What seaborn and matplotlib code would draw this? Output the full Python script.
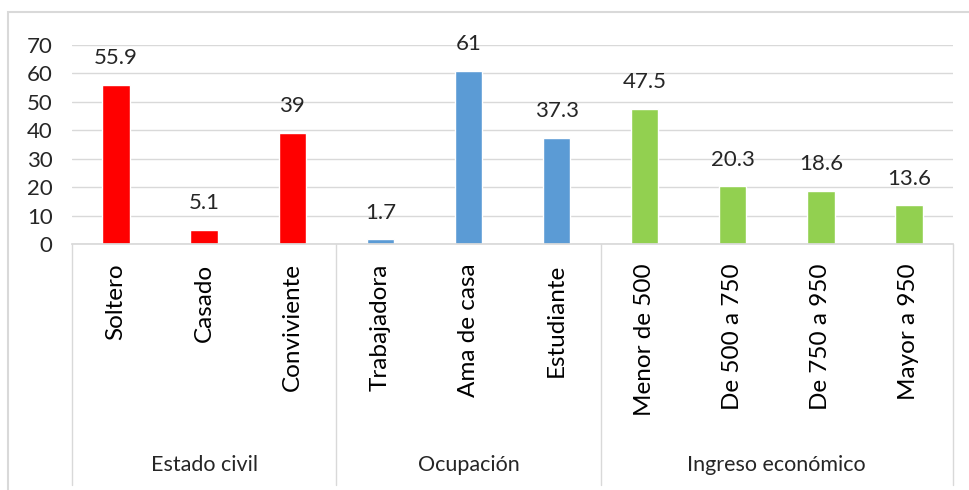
import pandas as pd
import seaborn as sns
import matplotlib.pyplot as plt
from matplotlib.transforms import blended_transform_factory
from matplotlib.patches import Rectangle

# data
categories = ["Soltero", "Casado", "Conviviente",
              "Trabajadora", "Ama de casa", "Estudiante",
              "Menor de 500", "De 500 a 750", "De 750 a 950", "Mayor a 950"]
values = [55.9, 5.1, 39, 1.7, 61, 37.3, 47.5, 20.3, 18.6, 13.6]
groups = ["Estado civil"] * 3 + ["Ocupación"] * 3 + ["Ingreso económico"] * 4
group_names = ["Estado civil", "Ocupación", "Ingreso económico"]
group_colors = ["#FF0000", "#5B9BD5", "#92D050"]

df = pd.DataFrame({"categoria": categories, "valor": values, "grupo": groups})

sns.set_theme(style="white")
plt.rcParams['font.family'] = ['Lato', 'DejaVu Sans']

fig = plt.figure(figsize=(9.69, 4.90), dpi=100)
ax = fig.add_axes([72 / 969, 246 / 490, (953 - 72) / 969, 199 / 490])

sns.barplot(data=df, x="categoria", y="valor", hue="grupo", hue_order=group_names,
            palette=group_colors, dodge=False, width=0.31, legend=False,
            saturation=1, ax=ax)

# value labels on top of bars
for cont in ax.containers:
    labels = [f"{v:g}" for v in cont.datavalues]
    ax.bar_label(cont, labels=labels, padding=12, fontsize=16, color="#262626")

ax.set_ylim(0, 70)
ax.set_xlim(-0.5, len(categories) - 0.5)
ax.set_yticks(range(0, 71, 10))
ax.yaxis.grid(True, color="#D9D9D9", linewidth=1)
ax.set_axisbelow(True)
ax.set_xlabel("")
ax.set_ylabel("")
for s in ["top", "right", "left"]:
    ax.spines[s].set_visible(False)
ax.spines["bottom"].set_color("#D9D9D9")
ax.tick_params(axis="y", length=0, pad=14, labelsize=16, labelcolor="#262626")
ax.tick_params(axis="x", length=0, pad=14, labelsize=17.5, labelcolor="black")
plt.setp(ax.get_xticklabels(), rotation=90, va="top")

# group separators and group labels below the axis
trans = blended_transform_factory(ax.transData, ax.transAxes)
bottom = -(485 - 244) / 199
bounds = [-0.5, 2.5, 5.5, 9.5]
for b in bounds:
    ax.plot([b, b], [0, bottom], transform=trans, color="#D9D9D9",
            linewidth=1, clip_on=False)
for i, name in enumerate(group_names):
    mid = (bounds[i] + bounds[i + 1]) / 2
    ax.text(mid, -(465 - 244) / 199, name, transform=trans, ha="center",
            va="center", fontsize=15.5, color="#262626")

# outer chart border
fig.patches.append(Rectangle((8 / 969, -0.1), 1.2, 1.1 - 12 / 490,
                             transform=fig.transFigure, fill=False,
                             edgecolor="#D9D9D9", linewidth=1.5))

fig.savefig("out.png", dpi=100)
